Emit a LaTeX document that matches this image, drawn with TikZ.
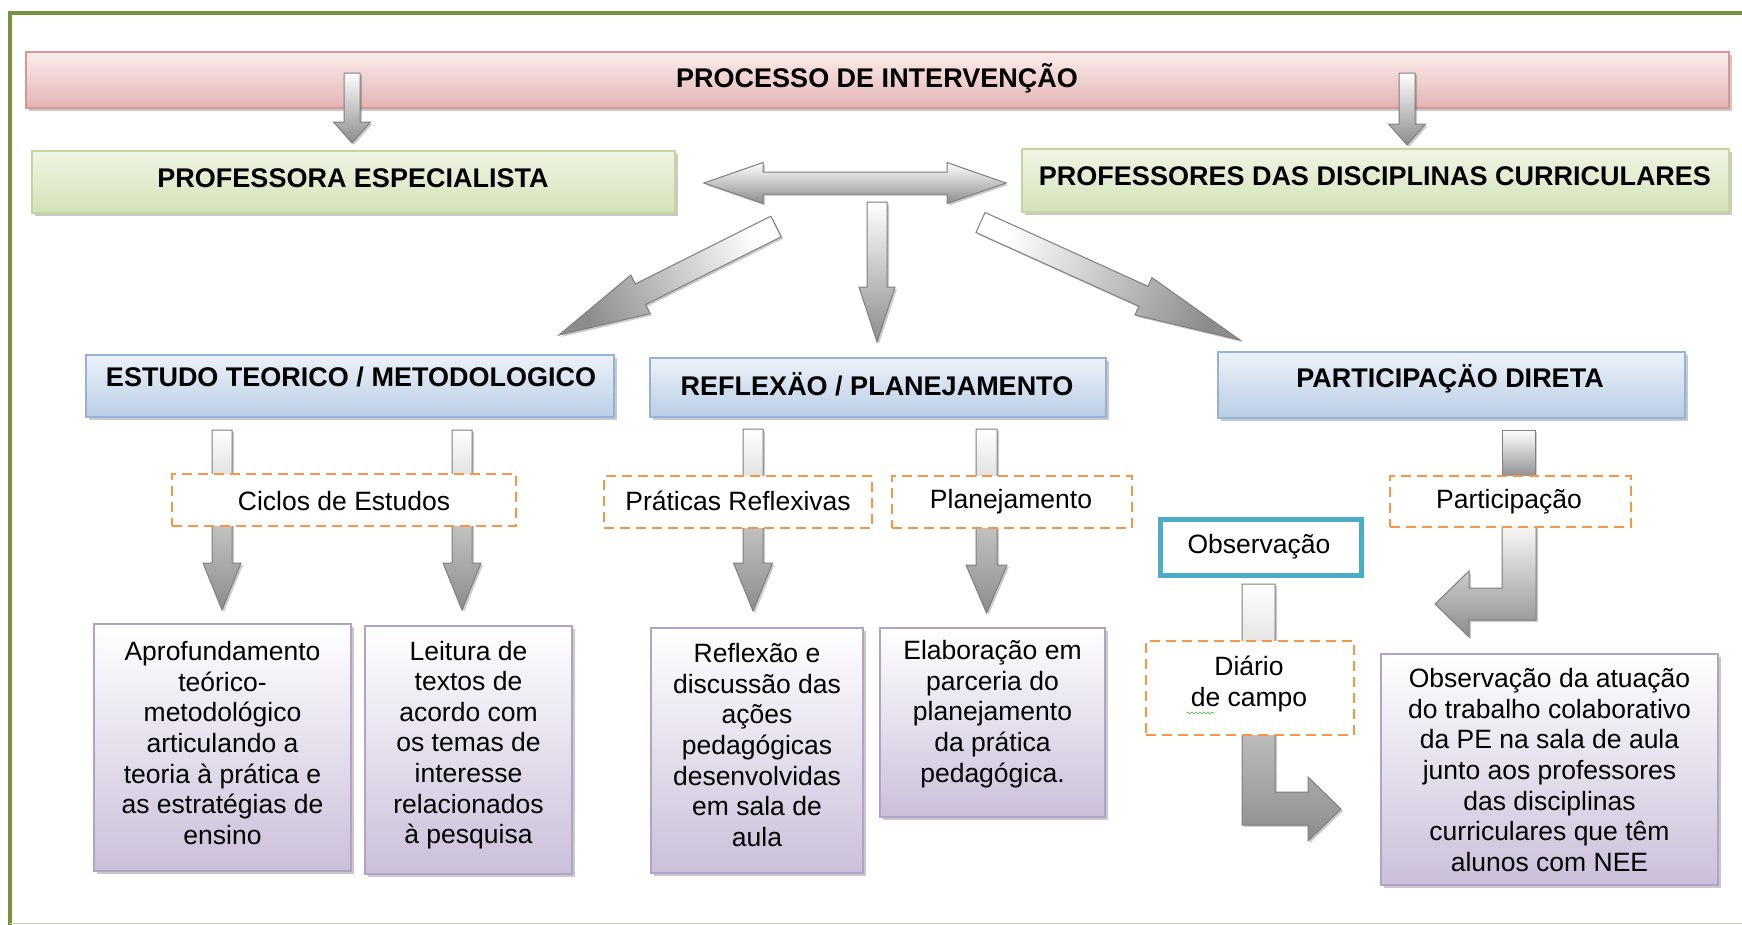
\documentclass[tikz,border=0pt]{standalone}
\usepackage{fontspec}
\setmainfont{Liberation Sans}
\usetikzlibrary{calc,shadows,decorations.pathmorphing}

\definecolor{frameg}{HTML}{77933C}
\definecolor{framel}{HTML}{C9D3B3}
\definecolor{pinkT}{HTML}{FCEDED}
\definecolor{pinkB}{HTML}{E4B3B3}
\definecolor{pinkD}{HTML}{D99694}
\definecolor{grnT}{HTML}{F0F5E4}
\definecolor{grnB}{HTML}{D3E2B8}
\definecolor{grnD}{HTML}{C3D69B}
\definecolor{bluT}{HTML}{EDF2F9}
\definecolor{bluB}{HTML}{B9CDE5}
\definecolor{bluD}{HTML}{95B3D7}
\definecolor{purT}{HTML}{FFFFFF}
\definecolor{purB}{HTML}{CBBFDA}
\definecolor{purD}{HTML}{B3A2C7}
\definecolor{orng}{HTML}{F79646}
\definecolor{tealc}{HTML}{4BACC6}
\definecolor{arrG}{HTML}{8C8C8C}
\definecolor{arrE}{HTML}{7F7F7F}
\definecolor{spell}{HTML}{6BB36B}

\newcommand\blockarrow[6][]{%
  \coordinate (hb) at ($(#3)!#6!(#2)$);
  \path[blockarr,#1] ($(#2)!#4!90:(#3)$) -- ($(hb)!#4!90:(#3)$) -- ($(hb)!#5!90:(#3)$)
    -- (#3) -- ($(hb)!#5!-90:(#3)$) -- ($(hb)!#4!-90:(#3)$) -- ($(#2)!#4!-90:(#3)$) -- cycle;}

\begin{document}
\begin{tikzpicture}[x=1pt,y=-1pt,
  box/.style={rectangle, inner sep=0pt, line width=1.2pt,
    drop shadow={shadow xshift=3pt, shadow yshift=-3pt, opacity=0.35, fill=black!60}},
  pinkbox/.style={box, draw=pinkD, top color=pinkT, bottom color=pinkB},
  grnbox/.style={box, draw=grnD, top color=grnT, bottom color=grnB},
  blubox/.style={box, draw=bluD, top color=bluT, bottom color=bluB},
  purbox/.style={box, draw=purD, top color=purT, bottom color=purB},
  hdr/.style={font=\fontsize{27}{31}\selectfont\bfseries, inner sep=0pt},
  txt/.style={font=\fontsize{26.5}{30.6}\selectfont, align=center, inner sep=0pt},
  dbox/.style={rectangle, draw=orng, line width=2pt, dash pattern=on 10pt off 6pt, fill=white, inner sep=0pt},
  obox/.style={rectangle, draw=tealc, line width=5pt, fill=white, inner sep=0pt},
  blockarr/.style={draw=arrE, line width=1pt, top color=white, bottom color=arrG, line join=miter,
    drop shadow={shadow xshift=2pt, shadow yshift=-2pt, opacity=0.2, fill=black}},
]
\useasboundingbox (0,0) rectangle (1742,924);
\clip (0,0) rectangle (1742,924);
\fill[white] (0,0) rectangle (1742,924);

% frame
\draw[frameg, line width=3.5pt] (1800,13) -- (10,13) -- (10,940);
\draw[framel, line width=1.6pt] (10,923.4) -- (1742,923.4);

% first rows
\node[pinkbox, minimum width=1703pt, minimum height=56pt] (title) at (877.5,80) {};
\node[grnbox, minimum width=643pt, minimum height=62pt] (profesp) at (353.5,182) {};
\node[grnbox, minimum width=707pt, minimum height=63pt] (profcur) at (1375.5,180.5) {};

% arrows from title
\coordinate (ta1s) at (352,73);  \coordinate (ta1e) at (352,143);
\coordinate (ta2s) at (1407,73); \coordinate (ta2e) at (1407,145);
\blockarrow{ta1s}{ta1e}{8pt}{18.5pt}{21pt}
\blockarrow{ta2s}{ta2e}{8pt}{18.5pt}{21pt}

% double arrow
\coordinate (dal) at (704,183); \coordinate (dar) at (1006,183);
\path[blockarr] (dal) -- ($(dal)+(59,-20.5)$) -- ($(dal)+(59,-11)$) -- ($(dar)+(-59,-11)$)
  -- ($(dar)+(-59,-20.5)$) -- (dar) -- ($(dar)+(-59,20.5)$) -- ($(dar)+(-59,11)$)
  -- ($(dal)+(59,11)$) -- ($(dal)+(59,20.5)$) -- cycle;

% center and diagonal arrows
\coordinate (cas) at (877,202); \coordinate (cae) at (877,342);
\blockarrow{cas}{cae}{10pt}{18pt}{55pt}
\coordinate (dls) at (776,226.5); \coordinate (dle) at (559,335);
\blockarrow[shading angle=-63.4]{dls}{dle}{11.5pt}{21.5pt}{91pt}
\coordinate (drs) at (980.5,222.5); \coordinate (dre) at (1240,340);
\blockarrow[shading angle=65.6]{drs}{dre}{11pt}{20.5pt}{106pt}

% second row
\node[blubox, minimum width=528pt, minimum height=62pt] (estudo) at (350,386) {};
\node[blubox, minimum width=456pt, minimum height=59pt] (reflex) at (878,387.5) {};
\node[blubox, minimum width=467pt, minimum height=66pt] (partic) at (1451.5,385) {};

% lower arrows
\coordinate (e1s) at (222,430);   \coordinate (e1e) at (222,610);
\coordinate (e2s) at (462,430);   \coordinate (e2e) at (462,610);
\coordinate (r1s) at (753,429);   \coordinate (r1e) at (753,611);
\coordinate (r2s) at (986.5,429); \coordinate (r2e) at (986.5,613);
\blockarrow{e1s}{e1e}{10pt}{19pt}{47pt}
\blockarrow{e2s}{e2e}{10pt}{19pt}{47pt}
\blockarrow{r1s}{r1e}{10pt}{19.5pt}{48pt}
\blockarrow{r2s}{r2e}{10.5pt}{20.5pt}{48pt}

% participacao top piece and bent arrow
\coordinate (pt0) at (1502,430);
\path[blockarr] (pt0) rectangle ++(33,48);
\coordinate (pb0) at (1502,518);
\path[blockarr] (pb0) -- ++(34,0) -- ++(0,102) -- ++(-67,0) -- ++(0,17) -- ++(-34,-33)
  -- ++(34,-33) -- ++(0,17) -- ++(33,0) -- cycle;

% observacao bent arrow
\coordinate (ob0) at (1242,584);
\path[blockarr] (ob0) -- ++(33,0) -- ++(0,208) -- ++(33,0) -- ++(0,-15) -- ++(33,32)
  -- ++(-33,32) -- ++(0,-16) -- ++(-66,0) -- cycle;

% dashed boxes
\node[dbox, minimum width=344pt, minimum height=52pt] (ciclos) at (344,500) {};
\node[dbox, minimum width=268pt, minimum height=52pt] (praticas) at (738,502) {};
\node[dbox, minimum width=240pt, minimum height=52pt] (planej) at (1012,502) {};
\node[dbox, minimum width=241pt, minimum height=51pt] (particd) at (1510.5,501.5) {};
\node[dbox, minimum width=208pt, minimum height=94pt] (diario) at (1250,688) {};
\node[obox, minimum width=201pt, minimum height=56pt] (observ) at (1261,547.5) {};

% purple boxes
\node[purbox, minimum width=257pt, minimum height=247pt] (p1) at (222.5,747.5) {};
\node[purbox, minimum width=207pt, minimum height=248pt] (p2) at (468.5,750) {};
\node[purbox, minimum width=212pt, minimum height=245pt] (p3) at (757,750.5) {};
\node[purbox, minimum width=225pt, minimum height=189pt] (p4) at (992.5,722.5) {};
\node[purbox, minimum width=337pt, minimum height=231pt] (p5) at (1549.5,769.5) {};

% header texts
\node[hdr] (titlet) at (877,78.5) {PROCESSO DE INTERVENÇÃO};
\node[hdr] (profespt) at (353,178) {PROFESSORA ESPECIALISTA};
\node[hdr] (profcurt) at (1375,176) {PROFESSORES DAS DISCIPLINAS CURRICULARES};
\node[hdr] (estudot) at (351,377) {ESTUDO TEORICO / METODOLOGICO};
\node[hdr] (reflext) at (877,384) {REFLEXÄO / PLANEJAMENTO};
\node[hdr] (partict) at (1450,379) {PARTICIPAÇÄO DIRETA};

% small labels
\node[txt] (ciclost) at (344,501) {Ciclos de Estudos};
\node[txt] (praticast) at (738,501) {Práticas Reflexivas};
\node[txt] (planejt) at (1011,502) {Planejamento};
\node[txt] (particdt) at (1509,502) {Participação};
\node[txt] (observt) at (1259,547) {Observação};
\node[txt] (diariot) at (1249,684) {Diário\\de campo};
\draw[spell, line width=0.8pt, decorate, decoration={snake, segment length=4pt, amplitude=1pt}]
  ($(diariot.south west)+(-4,1)$) -- ++(28,0);

% purple texts
\node[txt] (p1t) at (222.5,743) {Aprofundamento\\teórico-\\metodológico\\articulando a\\teoria à prática e\\as estratégias de\\ensino};
\node[txt] (p2t) at (468.5,745) {Leitura de\\textos de\\acordo com\\os temas de\\interesse\\relacionados\\à pesquisa};
\node[txt] (p3t) at (757,745) {Reflexão e\\discussão das\\ações\\pedagógicas\\desenvolvidas\\em sala de\\aula};
\node[txt] (p4t) at (992.5,714) {Elaboração em\\parceria do\\planejamento\\da prática\\pedagógica.};
\node[txt] (p5t) at (1549.5,770) {Observação da atuação\\do trabalho colaborativo\\da PE na sala de aula\\junto aos professores\\das disciplinas\\curriculares que têm\\alunos com NEE};
\end{tikzpicture}
\end{document}
